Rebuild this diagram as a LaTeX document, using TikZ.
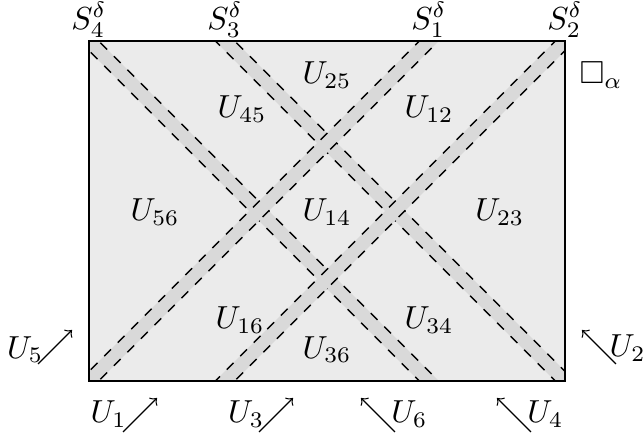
\documentclass[tikz,border=0pt]{standalone}
\usepackage{amssymb}
\begin{document}
\begin{tikzpicture}[x=0.75cm,y=0.75cm,
  lbl/.style={inner sep=1pt},
  band/.style={line width=0.155cm, draw=black!15},
  bedge/.style={dashed, line width=0.4pt},
  arr/.style={-to, line width=0.4pt}]
\useasboundingbox (-1.309,-0.809) rectangle (8.162,5.603);
\fill[black!8] (0,0) rectangle (7,5);
\begin{scope}
  \clip (0,0) rectangle (7,5);
  % S4 : x+y=5
  \draw[band] (-0.5,5.5) -- (5.5,-0.5);
  \draw[bedge,shift={(0.0707,0.0707)}] (-0.5,5.5) -- (5.5,-0.5);
  \draw[bedge,shift={(-0.0707,-0.0707)}] (-0.5,5.5) -- (5.5,-0.5);
  % S3 : x+y=7
  \draw[band] (1.5,5.5) -- (7.5,-0.5);
  \draw[bedge,shift={(0.0707,0.0707)}] (1.5,5.5) -- (7.5,-0.5);
  \draw[bedge,shift={(-0.0707,-0.0707)}] (1.5,5.5) -- (7.5,-0.5);
  % S1 : y=x
  \draw[band] (-0.5,-0.5) -- (5.5,5.5);
  \draw[bedge,shift={(0.0707,-0.0707)}] (-0.5,-0.5) -- (5.5,5.5);
  \draw[bedge,shift={(-0.0707,0.0707)}] (-0.5,-0.5) -- (5.5,5.5);
  % S2 : y=x-2
  \draw[band] (1.5,-0.5) -- (7.5,5.5);
  \draw[bedge,shift={(0.0707,-0.0707)}] (1.5,-0.5) -- (7.5,5.5);
  \draw[bedge,shift={(-0.0707,0.0707)}] (1.5,-0.5) -- (7.5,5.5);
\end{scope}
\draw[thick] (0,0) rectangle (7,5);

% strip labels
\node[lbl,anchor=south] (s4) at (0,5) {$S_4^\delta$};
\node[lbl,anchor=south] (s3) at (2,5) {$S_3^\delta$};
\node[lbl,anchor=south] (s1) at (5,5) {$S_1^\delta$};
\node[lbl,anchor=south] (s2) at (7,5) {$S_2^\delta$};
\node[lbl] (box) at (7.53,4.5) {$\Box_\alpha$};

% region labels
\node (u25) at (3.5,4.5) {$U_{25}$};
\node (u45) at (2.25,4.0) {$U_{45}$};
\node (u12) at (5.0,4.0) {$U_{12}$};
\node (u56) at (0.97,2.48) {$U_{56}$};
\node (u14) at (3.5,2.48) {$U_{14}$};
\node (u23) at (6.04,2.48) {$U_{23}$};
\node (u16) at (2.22,0.9) {$U_{16}$};
\node (u34) at (5.0,0.9) {$U_{34}$};
\node (u36) at (3.5,0.46) {$U_{36}$};

% direction arrows
\coordinate (a5s) at (-0.75,0.25); \coordinate (a5e) at (-0.25,0.75);
\coordinate (a2s) at (7.75,0.25);  \coordinate (a2e) at (7.25,0.75);
\coordinate (a1s) at (0.5,-0.75);  \coordinate (a1e) at (1.0,-0.25);
\coordinate (a3s) at (2.5,-0.75);  \coordinate (a3e) at (3.0,-0.25);
\coordinate (a6s) at (4.5,-0.75);  \coordinate (a6e) at (4.0,-0.25);
\coordinate (a4s) at (6.5,-0.75);  \coordinate (a4e) at (6.0,-0.25);
\draw[arr] (a5s) -- (a5e);
\draw[arr] (a2s) -- (a2e);
\draw[arr] (a1s) -- (a1e);
\draw[arr] (a3s) -- (a3e);
\draw[arr] (a6s) -- (a6e);
\draw[arr] (a4s) -- (a4e);
\node (u5) at (-0.94,0.46) {$U_5$};
\node (u2) at (7.92,0.48) {$U_2$};
\node (u1) at (0.29,-0.49) {$U_1$};
\node (u3) at (2.31,-0.49) {$U_3$};
\node (u6) at (4.71,-0.49) {$U_6$};
\node (u4) at (6.71,-0.49) {$U_4$};
\end{tikzpicture}
\end{document}
